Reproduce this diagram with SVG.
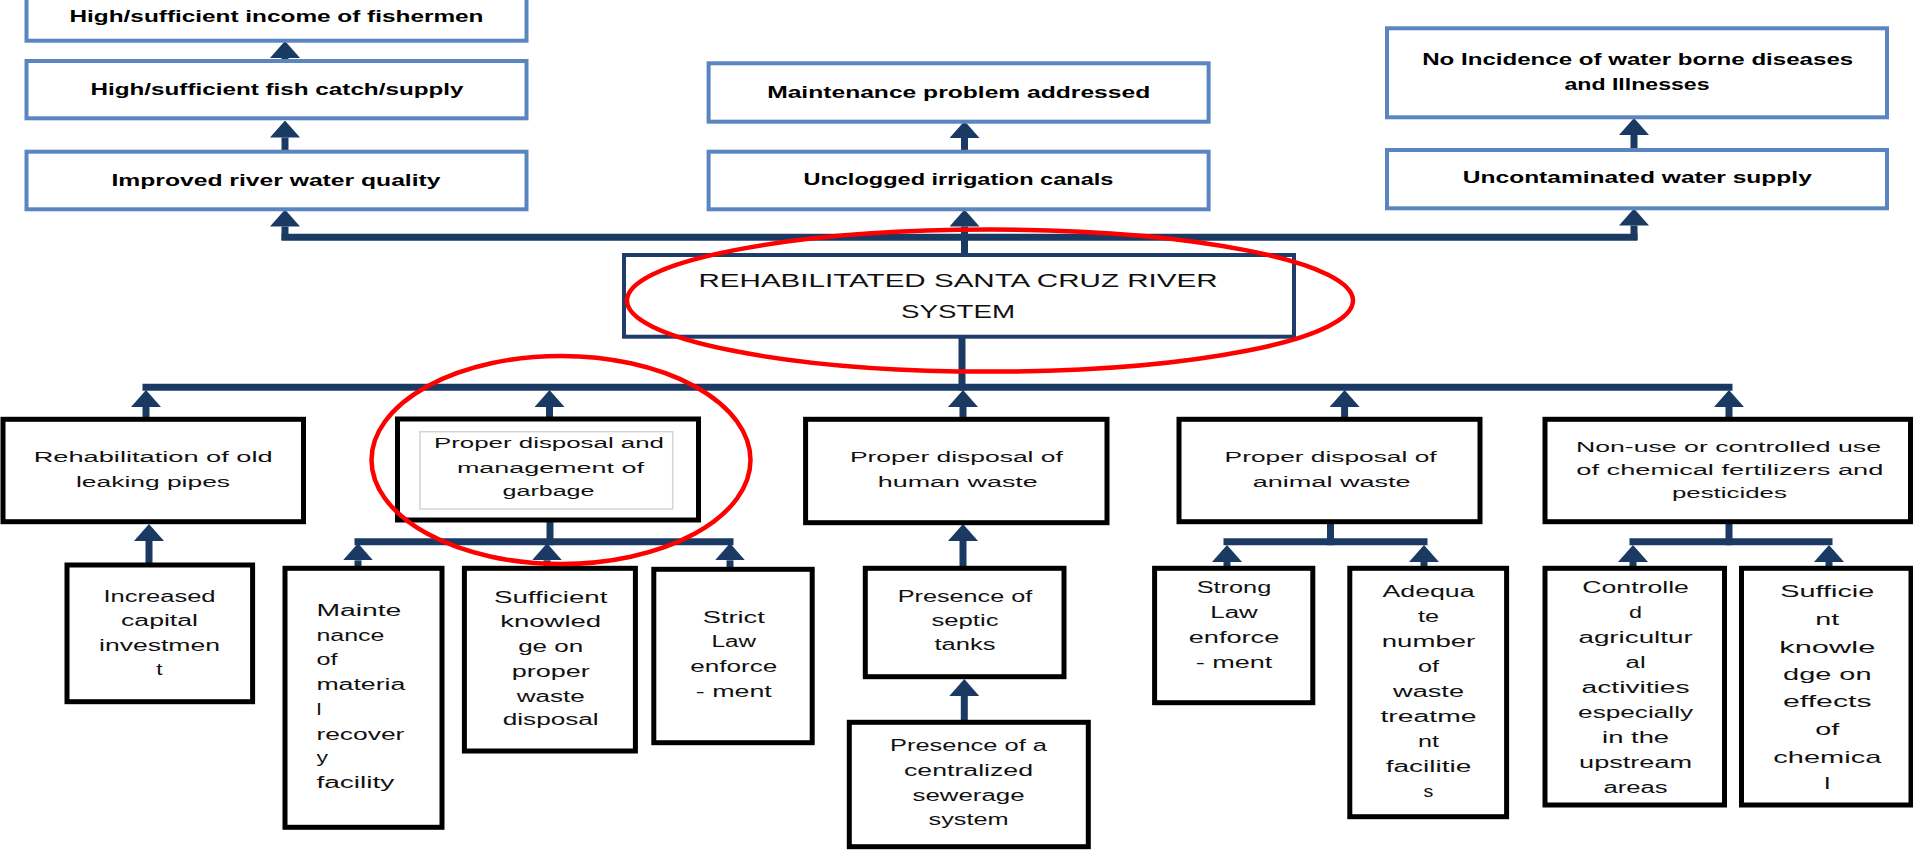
<svg xmlns="http://www.w3.org/2000/svg" width="1913" height="850" viewBox="0 0 1913 850">
<defs>
<marker id="ah" viewBox="0 0 17 30" refX="0" refY="15" markerWidth="17" markerHeight="30" markerUnits="userSpaceOnUse" orient="auto">
<path d="M0,0 L17,15 L0,30 z" fill="#1B3A63"/>
</marker>
<style>
.tb{fill:#fff;stroke:#5A86C0;stroke-width:4}
.cb{fill:#fff;stroke:#1F3D6B;stroke-width:4}
.kb{fill:#fff;stroke:#000;stroke-width:5}
.gb{fill:none;stroke:#d4d4d4;stroke-width:1.5}
.ln{fill:none;stroke:#1B3A63;stroke-width:7;stroke-linecap:square}
.ar{fill:none;stroke:#1B3A63;stroke-width:7;marker-end:url(#ah)}
.red{fill:none;stroke:#FF0000;stroke-width:4.5}
text{font-family:"Liberation Sans",Arial,sans-serif;text-anchor:middle;fill:#111}
.t1{font-weight:bold;font-size:17px;fill:#000}
.t2{font-size:18.5px}
.t3{font-size:15.5px}
.t4{font-size:16px}
.t5{font-size:17px}
.st{text-anchor:start}
</style>
</defs>
<rect width="1913" height="850" fill="#fff"/>

<g id="connectors">
<path class="ln" d="M285,237.3 H1634"/>
<path class="ar" d="M285,62 V58"/>
<path class="ar" d="M285,152 V137.5"/>
<path class="ar" d="M285,240 V226.5"/>
<path class="ar" d="M964.5,152 V138"/>
<path class="ar" d="M964.5,255 V226.5"/>
<path class="ar" d="M1634,150 V135"/>
<path class="ar" d="M1634,240 V225.5"/>
<path class="ln" d="M962,338 V387"/>
<path class="ln" d="M146,387.3 H1729"/>
<path class="ar" d="M146,419 V407"/>
<path class="ar" d="M549.5,419 V407"/>
<path class="ar" d="M963,419 V407"/>
<path class="ar" d="M1344.6,419 V407"/>
<path class="ar" d="M1729,419 V407"/>
<path class="ar" d="M149,565 V541"/>
<path class="ln" d="M550,522 V541.7"/>
<path class="ln" d="M358,541.7 H730"/>
<path class="ar" d="M358,568 V560.3"/>
<path class="ar" d="M547,568 V560.3"/>
<path class="ar" d="M730,568 V560.3"/>
<path class="ar" d="M963,568 V541"/>
<path class="ar" d="M964.3,722 V696"/>
<path class="ln" d="M1330.5,522 V541.7"/>
<path class="ln" d="M1227,541.7 H1424"/>
<path class="ar" d="M1227,568 V562"/>
<path class="ar" d="M1424,568 V562"/>
<path class="ln" d="M1729,522 V541.7"/>
<path class="ln" d="M1633,541.7 H1829"/>
<path class="ar" d="M1633,568 V562"/>
<path class="ar" d="M1829,568 V562"/>
</g>

<g id="n-income">
<rect class="tb" x="26.5" y="-16" width="500" height="56.7"/>
<text class="t1" x="276.5" y="21.7" textLength="414" lengthAdjust="spacingAndGlyphs">High/sufficient income of fishermen</text>
</g>
<g id="n-fishcatch">
<rect class="tb" x="26.5" y="61" width="500" height="57.3"/>
<text class="t1" x="277" y="95" textLength="373" lengthAdjust="spacingAndGlyphs">High/sufficient fish catch/supply</text>
</g>
<g id="n-riverquality">
<rect class="tb" x="26.5" y="151.7" width="500" height="57.6"/>
<text class="t1" x="276" y="185.7" textLength="329" lengthAdjust="spacingAndGlyphs">Improved river water quality</text>
</g>
<g id="n-maintenance">
<rect class="tb" x="708.6" y="63.3" width="500" height="58.4"/>
<text class="t1" x="958.7" y="98.3" textLength="383" lengthAdjust="spacingAndGlyphs">Maintenance problem addressed</text>
</g>
<g id="n-canals">
<rect class="tb" x="708.6" y="151.7" width="500" height="57.6"/>
<text class="t1" x="958.4" y="185" textLength="310" lengthAdjust="spacingAndGlyphs">Unclogged irrigation canals</text>
</g>
<g id="n-diseases">
<rect class="tb" x="1387" y="28.3" width="500" height="89"/>
<text class="t1" x="1637.7" y="65" textLength="431" lengthAdjust="spacingAndGlyphs">No Incidence of water borne diseases</text>
<text class="t1" x="1637" y="90" textLength="145" lengthAdjust="spacingAndGlyphs">and Illnesses</text>
</g>
<g id="n-watersupply">
<rect class="tb" x="1387" y="150" width="500" height="58.3"/>
<text class="t1" x="1637.3" y="183.3" textLength="349" lengthAdjust="spacingAndGlyphs">Uncontaminated water supply</text>
</g>

<g id="n-center">
<rect class="cb" x="624" y="255" width="670" height="81.7"/>
<text class="t2" x="958" y="286.7" textLength="519" lengthAdjust="spacingAndGlyphs">REHABILITATED SANTA CRUZ RIVER</text>
<text class="t2" x="958" y="318.3" textLength="114" lengthAdjust="spacingAndGlyphs">SYSTEM</text>
</g>

<g id="n-pipes">
<rect class="kb" x="3" y="419.3" width="300.5" height="102.4"/>
<text class="t3" x="153.2" y="461.7" textLength="239" lengthAdjust="spacingAndGlyphs">Rehabilitation of old</text>
<text class="t3" x="153" y="486.7" textLength="154" lengthAdjust="spacingAndGlyphs">leaking pipes</text>
</g>
<g id="n-garbage">
<rect class="kb" x="397.5" y="419" width="301" height="101"/>
<rect class="gb" x="420" y="431.7" width="252.7" height="77.3"/>
<text class="t3" x="549" y="448.3" textLength="230" lengthAdjust="spacingAndGlyphs">Proper disposal and</text>
<text class="t3" x="550.4" y="472.7" textLength="187" lengthAdjust="spacingAndGlyphs">management of</text>
<text class="t3" x="548.5" y="496" textLength="92" lengthAdjust="spacingAndGlyphs">garbage</text>
</g>
<g id="n-humanwaste">
<rect class="kb" x="805.6" y="419.3" width="301.4" height="103.4"/>
<text class="t3" x="956.4" y="461.7" textLength="213" lengthAdjust="spacingAndGlyphs">Proper disposal of</text>
<text class="t3" x="957.8" y="486.7" textLength="160" lengthAdjust="spacingAndGlyphs">human waste</text>
</g>
<g id="n-animalwaste">
<rect class="kb" x="1179" y="419.3" width="301" height="102.4"/>
<text class="t3" x="1330.6" y="461.7" textLength="212" lengthAdjust="spacingAndGlyphs">Proper disposal of</text>
<text class="t3" x="1331.7" y="486.7" textLength="158" lengthAdjust="spacingAndGlyphs">animal waste</text>
</g>
<g id="n-chemicals">
<rect class="kb" x="1545" y="419.3" width="365.5" height="102.4"/>
<text class="t3" x="1728.5" y="451.7" textLength="305" lengthAdjust="spacingAndGlyphs">Non-use or controlled use</text>
<text class="t3" x="1729.8" y="475" textLength="307" lengthAdjust="spacingAndGlyphs">of chemical fertilizers and</text>
<text class="t3" x="1729.4" y="498.3" textLength="115" lengthAdjust="spacingAndGlyphs">pesticides</text>
</g>

<g id="n-investment">
<rect class="kb" x="67" y="565" width="185.6" height="136.7"/>
<text class="t4" x="159.5" y="601.7" textLength="112" lengthAdjust="spacingAndGlyphs">Increased</text>
<text class="t4" x="159.5" y="626" textLength="77" lengthAdjust="spacingAndGlyphs">capital</text>
<text class="t4" x="159.5" y="650.7" textLength="121" lengthAdjust="spacingAndGlyphs">investmen</text>
<text class="t4" x="159.5" y="675" textLength="6.3" lengthAdjust="spacingAndGlyphs">t</text>
</g>
<g id="n-mrf">
<rect class="kb" x="285" y="568.3" width="157" height="259"/>
<text class="t4 st" x="316.4" y="616" textLength="85" lengthAdjust="spacingAndGlyphs">Mainte</text>
<text class="t4 st" x="316.4" y="640.7" textLength="68" lengthAdjust="spacingAndGlyphs">nance</text>
<text class="t4 st" x="316.4" y="665" textLength="21" lengthAdjust="spacingAndGlyphs">of</text>
<text class="t4 st" x="316.4" y="690" textLength="89" lengthAdjust="spacingAndGlyphs">materia</text>
<text class="t4 st" x="316.4" y="715" textLength="5" lengthAdjust="spacingAndGlyphs">l</text>
<text class="t4 st" x="316.4" y="740" textLength="88" lengthAdjust="spacingAndGlyphs">recover</text>
<text class="t4 st" x="316.4" y="763" textLength="11.5" lengthAdjust="spacingAndGlyphs">y</text>
<text class="t4 st" x="316.4" y="787.7" textLength="78" lengthAdjust="spacingAndGlyphs">facility</text>
</g>
<g id="n-knowledge-waste">
<rect class="kb" x="464.4" y="568.3" width="171" height="182.7"/>
<text class="t4" x="550.7" y="602.7" textLength="113.5" lengthAdjust="spacingAndGlyphs">Sufficient</text>
<text class="t4" x="550.7" y="627.3" textLength="101" lengthAdjust="spacingAndGlyphs">knowled</text>
<text class="t4" x="550.7" y="651.7" textLength="65" lengthAdjust="spacingAndGlyphs">ge on</text>
<text class="t4" x="550.7" y="676.7" textLength="78" lengthAdjust="spacingAndGlyphs">proper</text>
<text class="t4" x="550.7" y="701.7" textLength="68" lengthAdjust="spacingAndGlyphs">waste</text>
<text class="t4" x="550.7" y="725" textLength="96" lengthAdjust="spacingAndGlyphs">disposal</text>
</g>
<g id="n-strictlaw">
<rect class="kb" x="653.8" y="569.3" width="158.4" height="173.4"/>
<text class="t4" x="733.8" y="622.7" textLength="62" lengthAdjust="spacingAndGlyphs">Strict</text>
<text class="t4" x="733.8" y="647.3" textLength="44.5" lengthAdjust="spacingAndGlyphs">Law</text>
<text class="t4" x="733.8" y="671.7" textLength="87" lengthAdjust="spacingAndGlyphs">enforce</text>
<text class="t4" x="733.8" y="696.7" textLength="76" lengthAdjust="spacingAndGlyphs">- ment</text>
</g>
<g id="n-septic">
<rect class="kb" x="865.3" y="568.3" width="198.7" height="108.4"/>
<text class="t4" x="965" y="601.7" textLength="134.5" lengthAdjust="spacingAndGlyphs">Presence of</text>
<text class="t4" x="965" y="626" textLength="67" lengthAdjust="spacingAndGlyphs">septic</text>
<text class="t4" x="965" y="650" textLength="61" lengthAdjust="spacingAndGlyphs">tanks</text>
</g>
<g id="n-sewerage">
<rect class="kb" x="849.3" y="722.3" width="239" height="124.4"/>
<text class="t4" x="968.5" y="750.7" textLength="157" lengthAdjust="spacingAndGlyphs">Presence of a</text>
<text class="t4" x="968.5" y="776" textLength="129" lengthAdjust="spacingAndGlyphs">centralized</text>
<text class="t4" x="968.5" y="800.7" textLength="112" lengthAdjust="spacingAndGlyphs">sewerage</text>
<text class="t4" x="968.5" y="825" textLength="80" lengthAdjust="spacingAndGlyphs">system</text>
</g>
<g id="n-stronglaw">
<rect class="kb" x="1154.6" y="568.3" width="158.2" height="134.4"/>
<text class="t4" x="1234" y="593.3" textLength="74.6" lengthAdjust="spacingAndGlyphs">Strong</text>
<text class="t4" x="1234" y="618.3" textLength="47.4" lengthAdjust="spacingAndGlyphs">Law</text>
<text class="t4" x="1234" y="643.3" textLength="90.6" lengthAdjust="spacingAndGlyphs">enforce</text>
<text class="t4" x="1234" y="668.3" textLength="76.7" lengthAdjust="spacingAndGlyphs">- ment</text>
</g>
<g id="n-treatment">
<rect class="kb" x="1349.8" y="568.3" width="156.8" height="248.4"/>
<text class="t4" x="1428.5" y="596.7" textLength="92" lengthAdjust="spacingAndGlyphs">Adequa</text>
<text class="t4" x="1428.5" y="621.7" textLength="21" lengthAdjust="spacingAndGlyphs">te</text>
<text class="t4" x="1428.5" y="646.7" textLength="93.4" lengthAdjust="spacingAndGlyphs">number</text>
<text class="t4" x="1428.5" y="671.7" textLength="21" lengthAdjust="spacingAndGlyphs">of</text>
<text class="t4" x="1428.5" y="696.7" textLength="71" lengthAdjust="spacingAndGlyphs">waste</text>
<text class="t4" x="1428.5" y="721.7" textLength="96" lengthAdjust="spacingAndGlyphs">treatme</text>
<text class="t4" x="1428.5" y="746.7" textLength="21" lengthAdjust="spacingAndGlyphs">nt</text>
<text class="t4" x="1428.5" y="771.7" textLength="85.7" lengthAdjust="spacingAndGlyphs">facilitie</text>
<text class="t4" x="1428.5" y="796.7" textLength="9.8" lengthAdjust="spacingAndGlyphs">s</text>
</g>
<g id="n-agriculture">
<rect class="kb" x="1545" y="568.3" width="179.5" height="236.7"/>
<text class="t4" x="1635.6" y="593.3" textLength="106.6" lengthAdjust="spacingAndGlyphs">Controlle</text>
<text class="t4" x="1635.6" y="618.3" textLength="13" lengthAdjust="spacingAndGlyphs">d</text>
<text class="t4" x="1635.6" y="643.3" textLength="114.3" lengthAdjust="spacingAndGlyphs">agricultur</text>
<text class="t4" x="1635.6" y="668.3" textLength="20" lengthAdjust="spacingAndGlyphs">al</text>
<text class="t4" x="1635.6" y="693.3" textLength="108" lengthAdjust="spacingAndGlyphs">activities</text>
<text class="t4" x="1635.6" y="718.3" textLength="115" lengthAdjust="spacingAndGlyphs">especially</text>
<text class="t4" x="1635.6" y="743.3" textLength="67" lengthAdjust="spacingAndGlyphs">in the</text>
<text class="t4" x="1635.6" y="768.3" textLength="113" lengthAdjust="spacingAndGlyphs">upstream</text>
<text class="t4" x="1635.6" y="793.3" textLength="64" lengthAdjust="spacingAndGlyphs">areas</text>
</g>
<g id="n-knowledge-chem">
<rect class="kb" x="1741.5" y="568.3" width="169.5" height="236.7"/>
<text class="t5" x="1827.3" y="596.7" textLength="94" lengthAdjust="spacingAndGlyphs">Sufficie</text>
<text class="t5" x="1827.3" y="625" textLength="24" lengthAdjust="spacingAndGlyphs">nt</text>
<text class="t5" x="1827.3" y="652.7" textLength="96" lengthAdjust="spacingAndGlyphs">knowle</text>
<text class="t5" x="1827.3" y="680" textLength="88.5" lengthAdjust="spacingAndGlyphs">dge on</text>
<text class="t5" x="1827.3" y="707.3" textLength="88.5" lengthAdjust="spacingAndGlyphs">effects</text>
<text class="t5" x="1827.3" y="735" textLength="24" lengthAdjust="spacingAndGlyphs">of</text>
<text class="t5" x="1827.3" y="763.3" textLength="108" lengthAdjust="spacingAndGlyphs">chemica</text>
<text class="t5" x="1827.3" y="789.3" textLength="6" lengthAdjust="spacingAndGlyphs">l</text>
</g>

<g id="highlights">
<ellipse class="red" cx="990" cy="300.6" rx="363" ry="71"/>
<ellipse class="red" cx="561" cy="460" rx="189.5" ry="104"/>
</g>
</svg>
